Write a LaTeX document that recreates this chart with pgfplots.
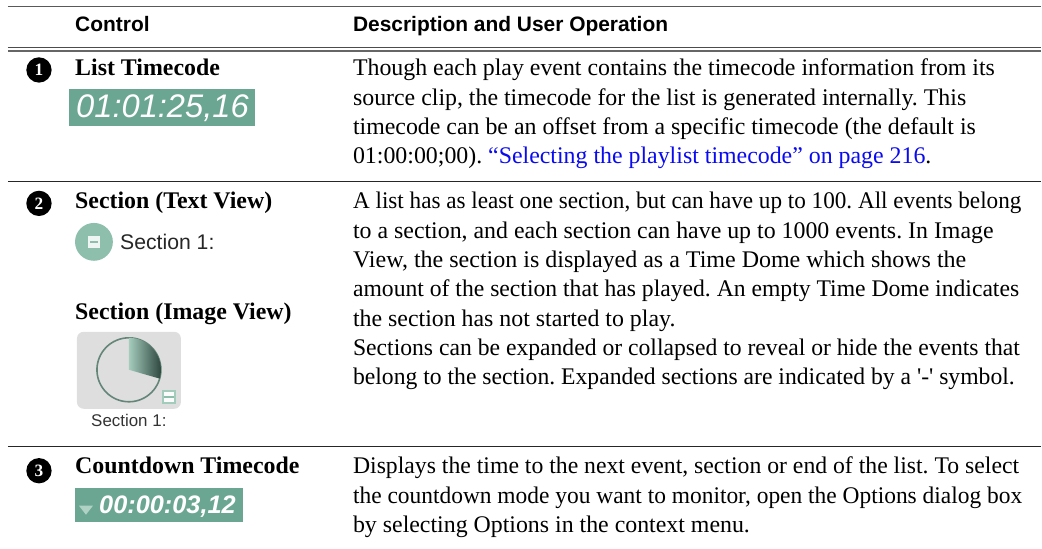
\documentclass[border=0pt]{standalone}
\usepackage{graphicx}
\usepackage{pgfplots}
\pgfplotsset{compat=1.18}
\usepackage{fontspec}
\setmainfont{Liberation Serif}
\newfontfamily\hd{Liberation Sans}
\newfontfamily\rawserif{Liberation Serif}
\definecolor{tc}{HTML}{6BA692}
\definecolor{dome}{HTML}{DEDEDE}
\definecolor{tg}{HTML}{8DBFAC}
\definecolor{lnk}{HTML}{0A0AF0}
\newcommand{\B}{\fontsize{17.9pt}{20pt}\selectfont\frenchspacing}
\newcommand{\SL}[2]{\scalebox{#1}[1]{#2}}
\begin{document}
\begin{tikzpicture}
\begin{axis}[hide axis, scale only axis, width=781.5pt, height=411.75pt, xmin=0, xmax=1042, ymin=0, ymax=549, y dir=reverse, clip=false]
\path (axis cs:0,0) rectangle (axis cs:1042,549);
\addplot[no marks, color=black!65, line width=0.8pt] coordinates {(8,6.7) (1042,6.7)};
\addplot[no marks, color=black!70, line width=0.9pt] coordinates {(8,47.7) (1042,47.7)};
\addplot[no marks, color=black!60, line width=0.8pt] coordinates {(8,51) (1042,51)};
\addplot[no marks, color=black!85, line width=0.7pt] coordinates {(8,182) (1042,182)};
\addplot[no marks, color=black!85, line width=0.7pt] coordinates {(8,447) (1042,447)};
\tikzset{t/.style={anchor=base west, inner sep=0pt, font=\B}}
\node[anchor=base west,inner sep=0pt,font=\hd\bfseries\fontsize{15.7pt}{18pt}\selectfont] at (axis cs:75,32) {Control};
\node[anchor=base west,inner sep=0pt,font=\hd\bfseries\fontsize{15.7pt}{18pt}\selectfont] at (axis cs:353,32) {Description and User Operation};
% markers
\foreach \y/\n in {70/1,203.5/2,471/3}{
\edef\tmp{\noexpand\fill[black] (axis cs:39,\y) circle[radius=9.5pt];
\noexpand\node[white,font=\noexpand\rawserif\noexpand\bfseries\noexpand\fontsize{13pt}{13pt}\noexpand\selectfont,inner sep=0pt] at (axis cs:39,\y) {\n};}
\tmp}
\node[t] at (axis cs:75,76) {\bfseries List Timecode};
\node[t] at (axis cs:75,209) {\bfseries Section (Text View)};
\node[t] at (axis cs:75,320) {\bfseries Section (Image View)};
\node[t] at (axis cs:75,474) {\bfseries Countdown Timecode};
% timecode boxes
\fill[tc] (axis cs:69,89) rectangle (axis cs:255,126);
\node[anchor=base west,inner sep=0pt,white,font=\hd\itshape\fontsize{24.5pt}{24pt}\selectfont] at (axis cs:76,118) {01:01:25,16};
\fill[tc] (axis cs:75,488) rectangle (axis cs:243,522);
\node[anchor=base west,inner sep=0pt,white,font=\hd\bfseries\itshape\fontsize{19pt}{19pt}\selectfont] at (axis cs:99,514) {00:00:03,12};
\fill[tg!70!white] (axis cs:79,506) -- (axis cs:93,506) -- (axis cs:86,515) -- cycle;
% section text view
\fill[tg] (axis cs:94,242) circle[radius=14.2pt];
\fill[white!85!tg] (axis cs:88,236) rectangle (axis cs:100,248);
\fill[tg] (axis cs:90,241.2) rectangle (axis cs:98,242.8);
\node[anchor=base west,inner sep=0pt,font=\hd\fontsize{15.9pt}{16pt}\selectfont,black!85] at (axis cs:120,250) {Section 1:};
% section image view
\fill[dome,rounded corners=5pt] (axis cs:77,332) rectangle (axis cs:181,409);
\draw[color=tg!70!black, line width=1.2pt] (axis cs:129,370) circle[radius=24pt];
\shade[left color=tg!80!white,right color=tc!40!black] (axis cs:129,370) -- (axis cs:129,338) arc[start angle=90,end angle=-16,radius=24pt] -- cycle;
\fill[tg!80!white] (axis cs:162,390) rectangle (axis cs:176,404);
\fill[white!90!dome] (axis cs:164,392) rectangle (axis cs:174,402);
\fill[tg] (axis cs:164,396.3) rectangle (axis cs:174,397.8);
\node[anchor=base west,inner sep=0pt,font=\hd\fontsize{12.7pt}{13pt}\selectfont,black!80] at (axis cs:91,427) {Section 1:};
% row 1
\node[t] at (axis cs:353,76) {Though each play event contains the timecode information from its};
\node[t] at (axis cs:353,105.3) {source clip, the timecode for the list is generated internally. This};
\node[t] at (axis cs:353,134.6) {timecode can be an offset from a specific timecode (the default is};
\node[t] at (axis cs:353,164) {01:00:00;00). \textcolor{lnk}{``Selecting the playlist timecode'' on page 216}.};
% row 2
\node[t] at (axis cs:353,209) {\SL{0.971}{A list has as least one section, but can have up to 100. All events belong}};
\node[t] at (axis cs:353,238.3) {to a section, and each section can have up to 1000 events. In Image};
\node[t] at (axis cs:353,267.6) {\SL{1.006}{View, the section is displayed as a Time Dome which shows the}};
\node[t] at (axis cs:353,297) {\SL{0.991}{amount of the section that has played. An empty Time Dome indicates}};
\node[t] at (axis cs:353,326.2) {the section has not started to play.};
\node[t] at (axis cs:353,355.5) {\SL{0.991}{Sections can be expanded or collapsed to reveal or hide the events that}};
\node[t] at (axis cs:353,385) {\SL{0.991}{belong to the section. Expanded sections are indicated by a {\rawserif'-'} symbol.}};
% row 3
\node[t] at (axis cs:353,474) {\SL{0.994}{Displays the time to the next event, section or end of the list. To select}};
\node[t] at (axis cs:353,503.3) {\SL{0.982}{the countdown mode you want to monitor, open the Options dialog box}};
\node[t] at (axis cs:353,532.5) {by selecting Options in the context menu.};
\end{axis}
\end{tikzpicture}
\end{document}
